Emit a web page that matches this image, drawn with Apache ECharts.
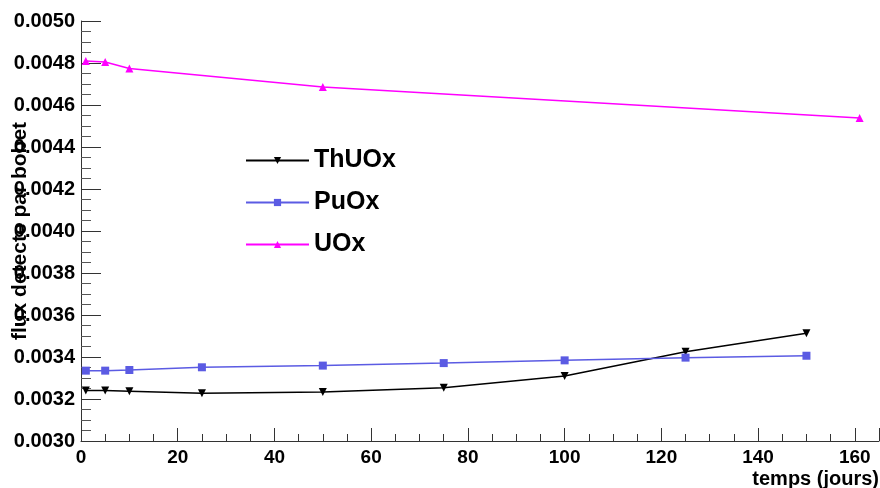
<!DOCTYPE html>
<html>
<head>
<meta charset="utf-8">
<script src="https://cdn.jsdelivr.net/npm/echarts@6/dist/echarts.min.js"></script>
<style>
html,body{margin:0;padding:0;background:#fff;}
#c{width:880px;height:488px;}
</style>
</head>
<body>
<div id="c"></div>
<script>
// Data
var thuoxX = [1, 5, 10, 25, 50, 75, 100, 125, 150];
var thuoxY = [0.003240, 0.003240, 0.003237, 0.003227, 0.003233, 0.003254, 0.003310, 0.003425, 0.003513];
var puoxX = [1, 5, 10, 25, 50, 75, 100, 125, 150];
var puoxY = [0.003335, 0.003335, 0.003338, 0.003351, 0.003359, 0.003371, 0.003384, 0.003397, 0.003406];
var uoxX = [1, 5, 10, 50, 161];
var uoxY = [0.004810, 0.004805, 0.004774, 0.004686, 0.004538];
var seriesNames = ['ThUOx', 'PuOx', 'UOx'];
var xTitle = 'temps (jours)';
var yTitle = 'flux detecte par bobet';

function pairs(xs, ys) { return xs.map(function (x, i) { return [x, ys[i]]; }); }

var font = 'Liberation Sans, Arial, Helvetica, sans-serif';
var chart = echarts.init(document.getElementById('c'), null, {renderer: 'canvas'});
chart.setOption({
  animation: false,
  backgroundColor: '#ffffff',
  grid: {left: 81, right: 1, top: 21, bottom: 47, containLabel: false, outerBoundsMode: 'none'},
  legend: {
    orient: 'vertical',
    left: 240,
    top: 143,
    itemWidth: 63,
    itemHeight: 9,
    itemGap: 17,
    textStyle: {fontFamily: font, fontWeight: 'bold', fontSize: 25, color: '#000'},
    data: seriesNames
  },
  xAxis: {
    type: 'value',
    min: 0, max: 165, interval: 20,
    name: xTitle,
    nameLocation: 'end',
    nameGap: 0,
    nameMoveOverlap: false,
    nameTextStyle: {fontFamily: font, fontWeight: 'bold', fontSize: 20, color: '#000', align: 'right', verticalAlign: 'top', padding: [28, 0, 0, 0]},
    axisLine: {show: true, onZero: false, lineStyle: {color: '#333', width: 1}},
    axisTick: {show: true, inside: true, length: 13, lineStyle: {color: '#333'}},
    minorTick: {show: true, splitNumber: 4, length: 7, lineStyle: {color: '#333'}},
    splitLine: {show: false},
    axisLabel: {fontFamily: font, fontWeight: 'bold', fontSize: 19, color: '#000', margin: 7,
      formatter: function (v) { return v <= 160 ? String(v) : ''; }}
  },
  yAxis: {
    type: 'value',
    min: 0.003, max: 0.005, interval: 0.0002,
    name: yTitle,
    nameLocation: 'middle',
    nameGap: 50,
    nameRotate: 90,
    nameMoveOverlap: false,
    nameTextStyle: {fontFamily: font, fontWeight: 'bold', fontSize: 21, color: '#000'},
    axisLine: {show: true, onZero: false, lineStyle: {color: '#333', width: 1}},
    axisTick: {show: true, inside: true, length: 20, lineStyle: {color: '#333'}},
    minorTick: {show: true, splitNumber: 4, length: 10, lineStyle: {color: '#555'}},
    splitLine: {show: false},
    axisLabel: {fontFamily: font, fontWeight: 'bold', fontSize: 20, color: '#000', margin: 6,
      formatter: function (v) { return v.toFixed(4); }}
  },
  series: [
    {
      name: seriesNames[0], type: 'line', data: pairs(thuoxX, thuoxY),
      symbol: 'triangle', symbolSize: 8, symbolRotate: 180, showAllSymbol: true,
      lineStyle: {color: '#000', width: 1.5}, itemStyle: {color: '#000'}
    },
    {
      name: seriesNames[1], type: 'line', data: pairs(puoxX, puoxY),
      symbol: 'rect', symbolSize: 8, showAllSymbol: true,
      lineStyle: {color: '#5b5be3', width: 1.5}, itemStyle: {color: '#5b5be3'}
    },
    {
      name: seriesNames[2], type: 'line', data: pairs(uoxX, uoxY),
      symbol: 'triangle', symbolSize: 8, showAllSymbol: true,
      lineStyle: {color: '#ff00ff', width: 1.5}, itemStyle: {color: '#ff00ff'}
    }
  ]
});
</script>
</body>
</html>
